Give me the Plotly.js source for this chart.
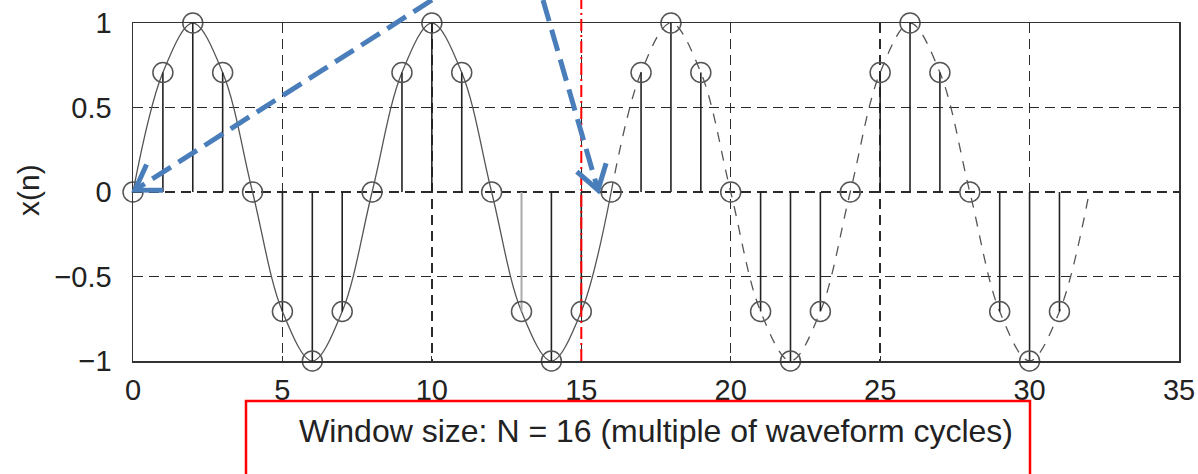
<!DOCTYPE html>
<html>
<head>
<meta charset="utf-8">
<script src="https://cdn.plot.ly/plotly-3.0.1.min.js"></script>
<style>html,body{margin:0;padding:0;background:#fff;}#chart{width:1198px;height:474px;}</style>
</head>
<body>
<div id="chart"></div>
<script>
// ---- data ----
const sampleN = [0,1,2,3,4,5,6,7,8,9,10,11,12,13,14,15,16,17,18,19,20,21,22,23,24,25,26,27,28,29,30,31];
const sampleX = [0,0.707,1,0.707,0,-0.707,-1,-0.707,0,0.707,1,0.707,0,-0.707,-1,-0.707,0,0.707,1,0.707,0,-0.707,-1,-0.707,0,0.707,1,0.707,0,-0.707,-1,-0.707];
const solidCurveN = [0,1,2,3,4,5,6,7,8,9,10,11,12,13,14,15,16];
const solidCurveX = [0,0.707,1,0.707,0,-0.707,-1,-0.707,0,0.707,1,0.707,0,-0.707,-1,-0.707,0];
const dashCurveN = [16,17,18,19,20,21,22,23,24,25,26,27,28,29,30,31,32];
const dashCurveX = [0,0.707,1,0.707,0,-0.707,-1,-0.707,0,0.707,1,0.707,0,-0.707,-1,-0.707,0];
const greyStemN = [13];
const xTicks = [0,5,10,15,20,25,30,35];
const yTicks = [-1,-0.5,0,0.5,1];
const yTickText = ['\u22121','\u22120.5','0','0.5','1'];
const windowEndN = 15;
const xLabel = 'Window size: N = 16 (multiple of waveform cycles)';
const yLabel = 'x(n)';

// ---- stems built from the samples ----
const stemX = [], stemY = [], greyX = [], greyY = [];
sampleN.forEach((n, i) => {
  const grey = greyStemN.includes(n);
  (grey ? greyX : stemX).push(n, n, null);
  (grey ? greyY : stemY).push(0, sampleX[i], null);
});

const FONT = '"Liberation Sans", Arial, Helvetica, sans-serif';
const INK = '#222';

const traces = [
  {x: solidCurveN, y: solidCurveX, mode: 'lines', line: {shape: 'spline', color: '#555', width: 1.3}, hoverinfo: 'skip'},
  {x: dashCurveN, y: dashCurveX, mode: 'lines', line: {shape: 'spline', color: '#555', width: 1.3, dash: '10px,9px'}, hoverinfo: 'skip'},
  {x: stemX, y: stemY, mode: 'lines', line: {color: '#222', width: 1.6}, hoverinfo: 'skip'},
  {x: greyX, y: greyY, mode: 'lines', line: {color: '#aaa', width: 2}, hoverinfo: 'skip'},
  {x: sampleN, y: sampleX, mode: 'markers', marker: {symbol: 'circle-open', size: 20, color: '#555', line: {width: 1.5, color: '#555'}}, cliponaxis: false}
];

// pixel -> paper helpers for the hand-drawn overlay (arrows, box)
const L = 133, R = 1179, T = 23, B = 361, W = R - L, H = B - T;
const px = p => (p - L) / W;
const py = p => (B - p) / H;

const BLUE = '#4a7ebb';
function arrow(x0, y0, x1, y1) {
  const dx = x0 - x1, dy = y0 - y1, len = Math.hypot(dx, dy);
  const ux = dx / len, uy = dy / len, a = 33 * Math.PI / 180, hl = 28;
  const r1x = ux * Math.cos(a) - uy * Math.sin(a), r1y = ux * Math.sin(a) + uy * Math.cos(a);
  const r2x = ux * Math.cos(-a) - uy * Math.sin(-a), r2y = ux * Math.sin(-a) + uy * Math.cos(-a);
  return [
    {type: 'line', xref: 'paper', yref: 'paper', x0: px(x0), y0: py(y0), x1: px(x1 + ux * 4), y1: py(y1 + uy * 4),
     line: {color: BLUE, width: 5, dash: '22px,9px'}},
    {type: 'path', xref: 'paper', yref: 'paper',
     path: `M ${px(x1 + r1x * hl)} ${py(y1 + r1y * hl)} L ${px(x1)} ${py(y1)} L ${px(x1 + r2x * hl)} ${py(y1 + r2y * hl)}`,
     line: {color: BLUE, width: 5}}
  ];
}

const shapes = [
  {type: 'line', xref: 'x', yref: 'paper', x0: windowEndN, x1: windowEndN, y0: 0, y1: py(0),
   line: {color: '#ff0000', width: 2, dash: '12px,4px,2px,4px'}},
  {type: 'rect', xref: 'paper', yref: 'paper', x0: px(246), x1: px(1030), y0: py(401), y1: py(490),
   line: {color: '#ff0000', width: 2.5}},
  ...arrow(432, 0, 135, 190),
  ...arrow(543, 0, 598, 190)
];

const axisCommon = {
  showline: true, mirror: true, linecolor: '#333', linewidth: 1.5,
  showgrid: true, gridcolor: '#2a2a2a', gridwidth: 1.5, griddash: '10px,6px',
  zeroline: false, ticks: 'inside', ticklen: 5, tickcolor: '#333',
  tickfont: {family: FONT, size: 29, color: INK}, tickmode: 'array', fixedrange: true
};

const layout = {
  width: 1198, height: 474,
  margin: {l: L, r: 1198 - R, t: T, b: 474 - B},
  paper_bgcolor: '#fff', plot_bgcolor: '#fff',
  showlegend: false,
  xaxis: Object.assign({}, axisCommon, {range: [0, 35], tickvals: xTicks, ticktext: xTicks.map(String), ticklabelstandoff: 3}),
  yaxis: Object.assign({}, axisCommon, {range: [-1, 1], tickvals: yTicks, ticktext: yTickText, ticklabelstandoff: 14}),
  shapes: shapes,
  annotations: [
    {xref: 'paper', yref: 'paper', x: px(656), y: py(431), text: xLabel, showarrow: false,
     xanchor: 'center', yanchor: 'middle', font: {family: FONT, size: 32, color: INK}},
    {xref: 'paper', yref: 'paper', x: px(28), y: py(190), text: yLabel, showarrow: false, textangle: -90,
     xanchor: 'center', yanchor: 'middle', font: {family: FONT, size: 30, color: INK}}
  ]
};

Plotly.newPlot('chart', traces, layout, {staticPlot: true, displayModeBar: false});
</script>
</body>
</html>
